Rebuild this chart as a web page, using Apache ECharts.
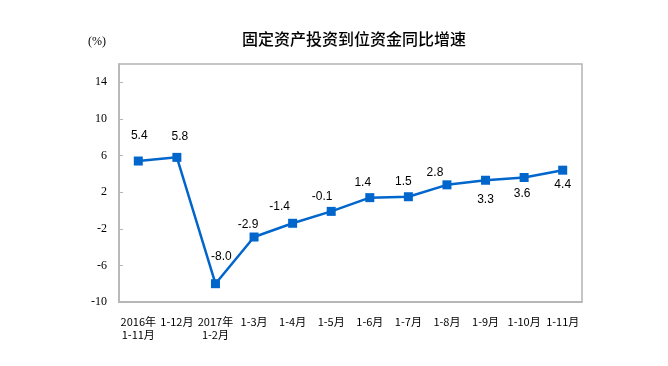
<!DOCTYPE html>
<html><head><meta charset="utf-8">
<script src="https://cdn.jsdelivr.net/npm/echarts@6/dist/echarts.min.js"></script>
<style>html,body{margin:0;padding:0;background:#fff}#c{width:668px;height:366px}</style>
</head><body><div id="c"></div>
<script>
var categories = ['2016年\n1-11月','1-12月','2017年\n1-2月','1-3月','1-4月','1-5月','1-6月','1-7月','1-8月','1-9月','1-10月','1-11月'];
var values = [5.4, 5.8, -8.0, -2.9, -1.4, -0.1, 1.4, 1.5, 2.8, 3.3, 3.6, 4.4];
var labelOffsets = [[1,-25],[3,-21],[6,-27],[-6,-12],[-13,-17],[-9,-15],[-7,-15],[-5,-15],[-12,-12],[0,19],[-2,16],[0,15]];
var yMin = -10, yMax = 16, yStep = 4;

var chart = echarts.init(document.getElementById('c'));
var blue = '#0066CC';
chart.setOption({
  animation: false,
  title: {text: '固定资产投资到位资金同比增速', left: 349, top: 26, textAlign: 'center',
    textStyle: {fontFamily: 'Noto Sans CJK SC', fontSize: 16, fontWeight: 500, color: '#000'}},
  graphic: [{type: 'text', left: 88, top: 36, style: {text: '(%)', font: '12px "Liberation Serif"', fill: '#000'}}],
  grid: {left: 119, right: 86, top: 64, bottom: 64, show: true, borderColor: '#b4b4b4', borderWidth: 1.5},
  xAxis: {type: 'category', data: categories, boundaryGap: true,
    axisLine: {onZero: false, lineStyle: {color: '#b4b4b4', width: 1.5}},
    axisTick: {inside: true, length: 5, lineStyle: {color: '#b4b4b4'}},
    axisLabel: {margin: 13, fontFamily: 'Noto Sans CJK SC', fontSize: 11, color: '#000', lineHeight: 13, interval: 0}},
  yAxis: {type: 'value', min: yMin, max: yMax, interval: yStep,
    splitLine: {show: false},
    axisLine: {show: true, lineStyle: {color: '#b4b4b4', width: 1.5}},
    axisTick: {show: true, inside: true, length: 4, lineStyle: {color: '#b4b4b4'}},
    axisLabel: {showMaxLabel: false, margin: 12, fontFamily: 'Liberation Serif', fontSize: 12, color: '#000'}},
  series: [{type: 'line', symbol: 'rect', symbolSize: 9,
    lineStyle: {color: blue, width: 2.5}, itemStyle: {color: blue},
    data: values.map(function (v, i) {
      return {value: v, label: {show: true, position: 'inside', offset: labelOffsets[i],
        formatter: v.toFixed(1), fontFamily: 'Liberation Sans', fontSize: 12, color: '#000'}};
    })
  }]
});
</script></body></html>
